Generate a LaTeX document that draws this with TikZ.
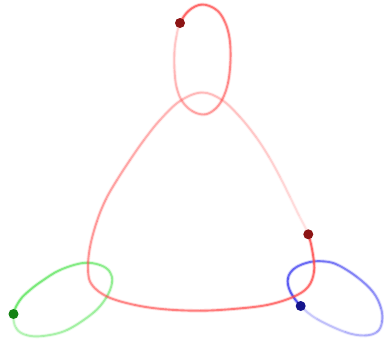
\documentclass[tikz,border=0pt]{standalone}
\usetikzlibrary{calc}
\definecolor{trailred}{RGB}{255,70,70}
\definecolor{trailgreen}{RGB}{70,225,70}
\definecolor{trailblue}{RGB}{60,60,240}
\definecolor{dotred}{RGB}{140,20,20}
\definecolor{dotgreen}{RGB}{20,130,20}
\definecolor{dotblue}{RGB}{20,20,140}
\newcommand\fadecurve[5]{%
  \pgfmathtruncatemacro\lastidx{#2-1}%
  \foreach \i in {0,...,\lastidx} {
    \pgfmathtruncatemacro\ia{mod(\i-1+#2,#2)}
    \pgfmathtruncatemacro\ib{mod(\i+1,#2)}
    \pgfmathtruncatemacro\ic{mod(\i+2,#2)}
    \pgfmathsetmacro\fop{#4-(#4-#5)*(\i+0.5)/#2}
    \pgfmathsetmacro\hop{0.3*\fop}
    \draw[#3, halo, draw opacity=\hop] let \p0=(#1\ia), \p1=(#1\i), \p2=(#1\ib), \p3=(#1\ic) in
      (\p1) .. controls ({\x1+(\x2-\x0)/6},{\y1+(\y2-\y0)/6}) and ({\x2-(\x3-\x1)/6},{\y2-(\y3-\y1)/6}) .. (\p2);
    \draw[#3, trail, draw opacity=\fop] let \p0=(#1\ia), \p1=(#1\i), \p2=(#1\ib), \p3=(#1\ic) in
      (\p1) .. controls ({\x1+(\x2-\x0)/6},{\y1+(\y2-\y0)/6}) and ({\x2-(\x3-\x1)/6},{\y2-(\y3-\y1)/6}) .. (\p2);
  }
}
\tikzset{
  trail/.style={line width=1.9pt},
  halo/.style={line width=3.8pt},
  bodydot/.style={circle, inner sep=0pt, minimum size=10pt}
}
\begin{document}
\begin{tikzpicture}[x=1pt,y=-1pt]
\useasboundingbox (0,0) rectangle (384,343);
% red rounded triangle
\foreach \px/\py [count=\k from 0] in {308.3/234.3,313/255,314/272,308/287,293/297,267/305,233/309,200/310.7,165/309.3,135/305,108/297,92/285,88/270,90/247,97/221,106/199,117/180,130/160,144/140,160/120,180/101,202/92.5,222/100,240/117,256/137,269/157,280/177,290/197,299/215.5}
  \coordinate (T\k) at (\px,\py);
% red top loop
\foreach \px/\py [count=\k from 0] in {180/23,189/10.5,202/4.5,216/9.5,224.5/21,229.5/38,230.5/60,228/83,222/100,214/110,204/114.5,192/111,182/101,176.5/87,174.5/70,174.5/51,176.5/36}
  \coordinate (L\k) at (\px,\py);
% green
\foreach \px/\py [count=\k from 0] in {13.5/314,20/300,30/290,42/281,60/270,83/263,100/265,110/272,112/283,106/298,93/313,67/330,43/336,26/335,16/328}
  \coordinate (G\k) at (\px,\py);
% blue
\foreach \px/\py [count=\k from 0] in {300.7/306,290/291,288/278,295/268,310/262,325/261.5,338/265,357/277,373/292,381/308,382/322,377/332,364/335.5,345/332,317/319}
  \coordinate (B\k) at (\px,\py);

\fadecurve{G}{15}{trailgreen}{0.72}{0.3}
\fadecurve{B}{15}{trailblue}{0.85}{0.2}
\fadecurve{T}{29}{trailred}{0.8}{0.12}
\fadecurve{L}{17}{trailred}{0.8}{0.2}

\node[bodydot, fill=dotred] (dotT) at (T0) {};
\node[bodydot, fill=dotred] (dotL) at (L0) {};
\node[bodydot, fill=dotgreen] (dotG) at (G0) {};
\node[bodydot, fill=dotblue] (dotB) at (B0) {};
\end{tikzpicture}
\end{document}
